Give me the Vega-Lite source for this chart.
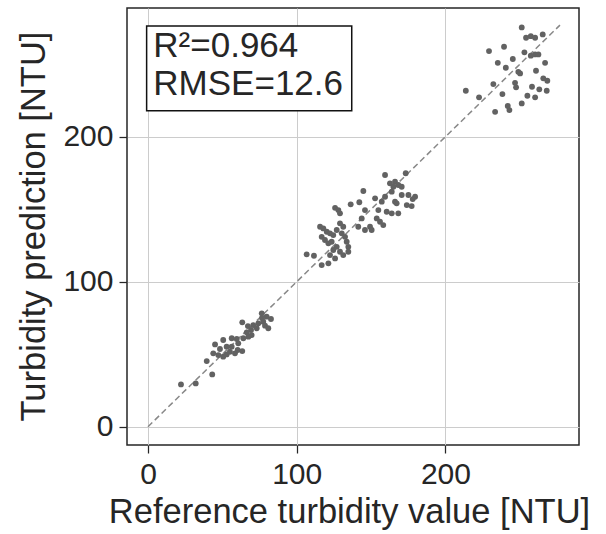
{
  "$schema": "https://vega.github.io/schema/vega-lite/v6.json",
  "autosize": {"type": "none"},
  "padding": {"left": 127, "top": 8, "right": 27, "bottom": 89},
  "width": 452,
  "height": 437,
  "background": "white",
  "config": {
    "font": "Liberation Sans",
    "view": {"stroke": "#262626", "strokeWidth": 1.5},
    "axis": {
      "labelFont": "Liberation Sans",
      "titleFont": "Liberation Sans",
      "labelFontSize": 30,
      "titleFontSize": 34.5,
      "titleFontWeight": "normal",
      "labelColor": "#262626",
      "titleColor": "#262626",
      "tickColor": "#262626",
      "tickSize": 8,
      "tickWidth": 1.25,
      "labelPadding": 6,
      "domain": false,
      "grid": true,
      "gridColor": "#cccccc",
      "gridWidth": 1
    }
  },
  "datasets": {
    "points": [
      {"ref": 251.3, "pred": 275.4}, {"ref": 254.2, "pred": 268.3}, {"ref": 257.4, "pred": 269.4}, {"ref": 260.3, "pred": 268.3},
      {"ref": 265.4, "pred": 270.6}, {"ref": 229.3, "pred": 259.1}, {"ref": 239.4, "pred": 262.1}, {"ref": 253.1, "pred": 258.2},
      {"ref": 257.4, "pred": 255.9}, {"ref": 260.3, "pred": 256.8}, {"ref": 262.5, "pred": 256.8}, {"ref": 235.2, "pred": 251.0},
      {"ref": 240.6, "pred": 247.6}, {"ref": 245.3, "pred": 253.6}, {"ref": 249.0, "pred": 244.8}, {"ref": 250.2, "pred": 243.7},
      {"ref": 260.9, "pred": 245.5}, {"ref": 267.0, "pred": 251.0}, {"ref": 232.2, "pred": 236.3}, {"ref": 246.8, "pred": 237.2},
      {"ref": 247.5, "pred": 234.1}, {"ref": 258.2, "pred": 234.5}, {"ref": 263.1, "pred": 232.7}, {"ref": 268.1, "pred": 231.7},
      {"ref": 265.8, "pred": 240.3}, {"ref": 268.5, "pred": 238.6}, {"ref": 213.7, "pred": 231.7}, {"ref": 222.6, "pred": 227.2},
      {"ref": 238.3, "pred": 229.4}, {"ref": 255.1, "pred": 228.3}, {"ref": 260.3, "pred": 227.2}, {"ref": 251.3, "pred": 223.0},
      {"ref": 241.9, "pred": 221.2}, {"ref": 243.0, "pred": 218.4}, {"ref": 233.4, "pred": 217.2},
      {"ref": 63.4, "pred": 72.0}, {"ref": 76.5, "pred": 78.2}, {"ref": 79.8, "pred": 75.9}, {"ref": 82.7, "pred": 74.3},
      {"ref": 77.5, "pred": 72.4}, {"ref": 74.2, "pred": 71.3}, {"ref": 70.8, "pred": 70.1}, {"ref": 73.1, "pred": 67.9},
      {"ref": 78.7, "pred": 69.7}, {"ref": 80.9, "pred": 67.9}, {"ref": 69.3, "pred": 66.7}, {"ref": 66.4, "pred": 65.1},
      {"ref": 69.7, "pred": 63.2}, {"ref": 67.5, "pred": 62.1}, {"ref": 64.1, "pred": 61.0}, {"ref": 56.3, "pred": 61.0},
      {"ref": 59.7, "pred": 60.5}, {"ref": 50.6, "pred": 59.8}, {"ref": 45.1, "pred": 56.8}, {"ref": 48.4, "pred": 53.6},
      {"ref": 43.9, "pred": 50.6}, {"ref": 47.3, "pred": 49.4}, {"ref": 50.6, "pred": 48.3}, {"ref": 52.9, "pred": 49.9},
      {"ref": 55.1, "pred": 51.7}, {"ref": 58.5, "pred": 50.6}, {"ref": 60.3, "pred": 52.9}, {"ref": 63.4, "pred": 52.2},
      {"ref": 56.3, "pred": 55.2}, {"ref": 52.9, "pred": 55.2}, {"ref": 60.7, "pred": 57.5}, {"ref": 39.5, "pred": 45.3},
      {"ref": 43.2, "pred": 36.1}, {"ref": 22.2, "pred": 29.2}, {"ref": 32.1, "pred": 29.9}, {"ref": 76.7, "pred": 75.0},
      {"ref": 67.2, "pred": 69.4},
      {"ref": 144.8, "pred": 162.6}, {"ref": 136.3, "pred": 153.4}, {"ref": 142.1, "pred": 154.8}, {"ref": 125.8, "pred": 151.0},
      {"ref": 128.0, "pred": 149.4}, {"ref": 129.1, "pred": 147.2}, {"ref": 145.9, "pred": 149.4}, {"ref": 143.7, "pred": 143.7},
      {"ref": 141.4, "pred": 137.9}, {"ref": 145.9, "pred": 135.7}, {"ref": 115.7, "pred": 137.9}, {"ref": 117.9, "pred": 136.8},
      {"ref": 120.2, "pred": 134.5}, {"ref": 122.4, "pred": 133.4}, {"ref": 124.6, "pred": 132.2}, {"ref": 116.8, "pred": 131.0},
      {"ref": 119.0, "pred": 128.8}, {"ref": 121.3, "pred": 126.5}, {"ref": 123.5, "pred": 127.6}, {"ref": 126.9, "pred": 135.7},
      {"ref": 129.1, "pred": 140.3}, {"ref": 131.3, "pred": 137.9}, {"ref": 130.3, "pred": 133.4}, {"ref": 132.5, "pred": 131.0},
      {"ref": 133.6, "pred": 127.6}, {"ref": 134.7, "pred": 124.1}, {"ref": 126.9, "pred": 124.1}, {"ref": 129.1, "pred": 120.7},
      {"ref": 124.6, "pred": 121.9}, {"ref": 122.4, "pred": 118.4}, {"ref": 125.8, "pred": 116.1}, {"ref": 131.3, "pred": 118.4},
      {"ref": 134.7, "pred": 120.7}, {"ref": 106.7, "pred": 118.9}, {"ref": 111.6, "pred": 117.9}, {"ref": 116.8, "pred": 111.5},
      {"ref": 121.3, "pred": 112.7},
      {"ref": 159.4, "pred": 173.6}, {"ref": 173.3, "pred": 174.8}, {"ref": 162.7, "pred": 167.9}, {"ref": 166.1, "pred": 169.0},
      {"ref": 168.3, "pred": 166.7}, {"ref": 165.0, "pred": 165.5}, {"ref": 163.9, "pred": 162.1}, {"ref": 159.4, "pred": 158.6},
      {"ref": 157.2, "pred": 155.2}, {"ref": 154.9, "pred": 149.4}, {"ref": 160.5, "pred": 148.3}, {"ref": 166.1, "pred": 155.2},
      {"ref": 167.2, "pred": 154.1}, {"ref": 170.6, "pred": 159.8}, {"ref": 175.1, "pred": 159.8}, {"ref": 174.0, "pred": 152.9},
      {"ref": 177.3, "pred": 152.2}, {"ref": 179.6, "pred": 158.6}, {"ref": 163.9, "pred": 147.2}, {"ref": 168.3, "pred": 147.2},
      {"ref": 153.8, "pred": 143.7}, {"ref": 156.0, "pred": 141.4}, {"ref": 158.2, "pred": 139.1}, {"ref": 149.3, "pred": 137.9},
      {"ref": 150.4, "pred": 135.7}, {"ref": 152.7, "pred": 157.5}, {"ref": 170.6, "pred": 165.5}, {"ref": 178.0, "pred": 157.0}
    ],
    "diag": [{"v": 0}, {"v": 277}]
  },
  "layer": [
    {
      "data": {"name": "diag"},
      "mark": {"type": "line", "color": "#888888", "strokeWidth": 1.5, "strokeDash": [6, 3.5]},
      "encoding": {
        "x": {"field": "v", "type": "quantitative", "scale": {"domain": [-14.1, 289.8], "nice": false, "zero": false},
              "axis": {"values": [0, 100, 200], "title": "Reference turbidity value [NTU]", "titleBaseline": "alphabetic", "titleY": 77, "titleX": 222}},
        "y": {"field": "v", "type": "quantitative", "scale": {"domain": [-12.6, 288.8], "nice": false, "zero": false},
              "axis": {"values": [0, 100, 200], "title": "Turbidity prediction [NTU]", "titleBaseline": "alphabetic", "titleX": -83, "titleY": 218, "titleAngle": -90}}
      }
    },
    {
      "data": {"name": "points"},
      "mark": {"type": "circle", "color": "#626262", "opacity": 1, "size": 34},
      "encoding": {
        "x": {"field": "ref", "type": "quantitative"},
        "y": {"field": "pred", "type": "quantitative"}
      }
    },
    {
      "data": {"values": [{}]},
      "mark": {"type": "rect", "fill": "white", "stroke": "#111111", "strokeWidth": 1.5},
      "encoding": {
        "x": {"datum": -0.9, "type": "quantitative"},
        "x2": {"datum": 137.0},
        "y": {"datum": 276.3, "type": "quantitative"},
        "y2": {"datum": 217.9}
      }
    },
    {
      "data": {"values": [{}]},
      "mark": {"type": "text", "align": "left", "baseline": "alphabetic", "fontSize": 35, "lineHeight": 38.5, "color": "#262626", "font": "Liberation Sans"},
      "encoding": {
        "x": {"datum": 3.6, "type": "quantitative"},
        "y": {"datum": 255.2, "type": "quantitative"},
        "text": {"value": ["R²=0.964", "RMSE=12.6"]}
      }
    }
  ]
}
